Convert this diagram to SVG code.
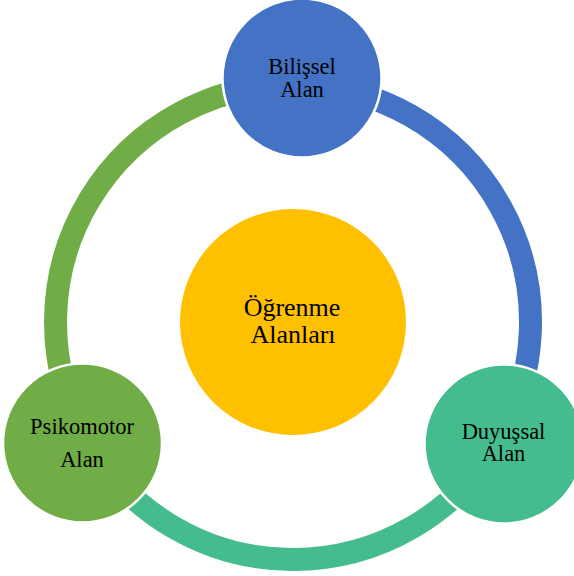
<svg xmlns="http://www.w3.org/2000/svg" width="574" height="576" viewBox="0 0 574 576">
<style>
.arc{fill:none;stroke-width:23;stroke-linecap:butt}
.node{stroke:#FFFFFF;stroke-width:2.5}
.lbl{font-family:"Liberation Serif","Times New Roman",serif;font-size:22.5px;fill:#000000;text-anchor:middle}
.clbl{font-family:"Liberation Serif","Times New Roman",serif;font-size:26px;fill:#000000;text-anchor:middle}
</style>
<rect width="574" height="576" fill="#FFFFFF"/>
<g id="connectors">
<path class="arc" stroke="#4472C4" d="M301.7,84.7 A237.5,237.5 0 0 1 498.7,440.75"/>
<path class="arc" stroke="#44BC8E" d="M498.7,440.75 A237.5,237.5 0 0 1 86.9,440"/>
<path class="arc" stroke="#70AD47" d="M86.9,440 A237.5,237.5 0 0 1 301.7,84.7"/>
</g>
<g id="center">
<circle cx="293" cy="322" r="113" fill="#FFC000"/>
<text class="clbl" x="292" y="315.7">Öğrenme</text>
<text class="clbl" x="293" y="343.3">Alanları</text>
</g>
<g id="bilissel">
<circle class="node" cx="302" cy="78" r="79.5" fill="#4472C4"/>
<text class="lbl" x="302" y="74">Bilişsel</text>
<text class="lbl" x="302" y="96.7">Alan</text>
</g>
<g id="duyussal">
<circle class="node" cx="504" cy="444" r="79.5" fill="#44BC8E"/>
<text class="lbl" x="503.5" y="439">Duyuşsal</text>
<text class="lbl" x="503.5" y="461">Alan</text>
</g>
<g id="psikomotor">
<circle class="node" cx="82.5" cy="443" r="79.5" fill="#70AD47"/>
<text class="lbl" x="82" y="434.3">Psikomotor</text>
<text class="lbl" x="82" y="466.7">Alan</text>
</g>
</svg>
